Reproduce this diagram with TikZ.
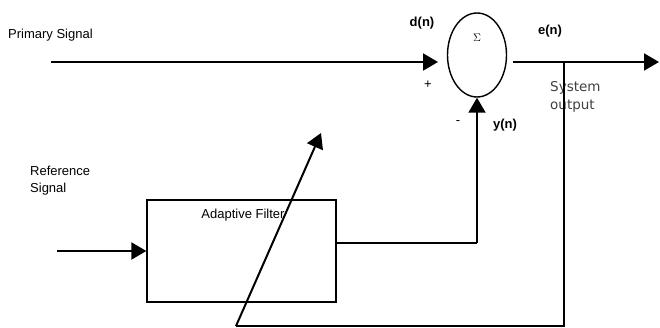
\documentclass[tikz,border=0pt]{standalone}
\usepackage{fontspec}
\setmainfont{Liberation Sans}
\newfontfamily\dejavu{DejaVu Sans}
\usetikzlibrary{arrows.meta,shapes.geometric}
\begin{document}
\begin{tikzpicture}[x=1pt,y=-1pt,
    font=\fontsize{13}{15}\selectfont,
    sig/.style={line width=2pt,-{Triangle[length=15pt,width=17pt]}},
    wire/.style={line width=1.2pt}]
    \useasboundingbox (0,0) rectangle (660,328);
    %% Blocks
    \node[draw,line width=1.4pt,ellipse,minimum width=59pt,minimum height=84pt,inner sep=0pt] (sum) at (477,55) {};
    \node at (477,38) {\fontsize{11}{12}\selectfont$\Sigma$};
    \node[draw,line width=1.3pt,minimum width=189pt,minimum height=102pt] (filter) at (241.5,251) {};
    \node[anchor=base] (filtertext) at (243,219) {Adaptive Filter};
    %% Labels
    \node[anchor=base west,inner sep=0pt] (primary) at (8,39) {Primary Signal};
    \node[anchor=north west,inner sep=0pt,align=left,font=\fontsize{13}{16.5}\selectfont] (reference) at (30,166) {Reference\\Signal};
    \node[anchor=base] (dn) at (422,27) {\bfseries d(n)};
    \node[anchor=base] (en) at (550,35) {\bfseries e(n)};
    \node[anchor=base] (yn) at (505,129) {\bfseries y(n)};
    \node (plus) at (428,85) {+};
    \node (minus) at (458,123) {-};
    \node[anchor=north west,inner sep=0pt,align=left,text=black!75,
        font=\dejavu\fontsize{13.5}{18}\selectfont] (sysout) at (550,81) {System\\output};
    %% Points
    \coordinate (pstart) at (51,62);
    \coordinate (pend) at (438,62);
    \coordinate (ostart) at (513,62);
    \coordinate (oend) at (659,62);
    \coordinate (tap) at (564,62);
    \coordinate (istart) at (57,251);
    \coordinate (ycorner) at (477,243);
    \coordinate (fcorner) at (564,326);
    \coordinate (fbottom) at (236,326);
    \coordinate (ftip) at (321,133);
    %% Signals
    \draw[sig] (pstart) -- (pend);
    \draw[sig] (ostart) -- (oend);
    \draw[sig] (istart) -- (filter.west);
    \draw[wire] (filter.east |- ycorner) -- (ycorner);
    \draw[sig] (ycorner) -- (sum.south);
    %% Feedback
    \draw[wire] (tap) -- (fcorner) -- (fbottom);
    \draw[sig] (fbottom) -- (ftip);
\end{tikzpicture}
\end{document}
